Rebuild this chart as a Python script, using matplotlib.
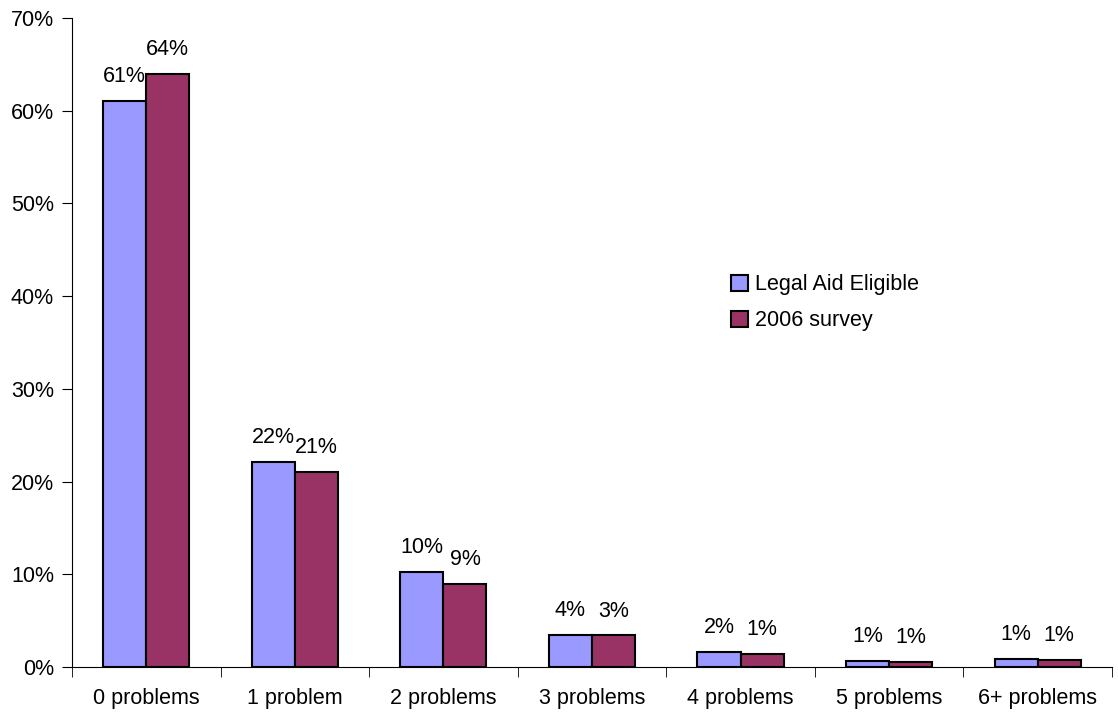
import numpy as np
import matplotlib
matplotlib.use("Agg")
import matplotlib.pyplot as plt
from matplotlib.ticker import FuncFormatter, FixedLocator

plt.rcParams['font.family'] = ['Liberation Sans', 'DejaVu Sans']

categories = ["0 problems", "1 problem", "2 problems", "3 problems",
              "4 problems", "5 problems", "6+ problems"]
legal_aid = [61.0, 22.1, 10.3, 3.5, 1.6, 0.65, 0.85]
survey_2006 = [64.0, 21.0, 9.0, 3.4, 1.4, 0.5, 0.75]
legal_labels = ["61%", "22%", "10%", "4%", "2%", "1%", "1%"]
survey_labels = ["64%", "21%", "9%", "3%", "1%", "1%", "1%"]

fig = plt.figure(figsize=(11.18, 7.17), dpi=100)
ax = fig.add_axes([0.0644, 0.0697, 0.9302, 0.9053])

x = np.arange(len(categories))
w = 0.29
b1 = ax.bar(x - w / 2, legal_aid, w, color="#9999FF", edgecolor="black",
            linewidth=1.5, label="Legal Aid Eligible")
b2 = ax.bar(x + w / 2, survey_2006, w, color="#993366", edgecolor="black",
            linewidth=1.5, label="2006 survey")

# value labels above bars
for bars, labels in [(b1, legal_labels), (b2, survey_labels)]:
    for rect, lab in zip(bars, labels):
        ax.annotate(lab, (rect.get_x() + rect.get_width() / 2, rect.get_height()),
                    xytext=(0, 10), textcoords="offset points",
                    ha="center", va="bottom", fontsize=15.5)

ax.set_xlim(-0.5, len(categories) - 0.5)
ax.set_ylim(0, 70)
ax.set_yticks(np.arange(0, 71, 10))
ax.yaxis.set_major_formatter(FuncFormatter(lambda v, p: f"{v:.0f}%"))

ax.set_xticks(x)
ax.set_xticklabels(categories)
ax.xaxis.set_minor_locator(FixedLocator(np.arange(-0.5, len(categories), 1)))
ax.tick_params(axis="x", which="major", length=0, pad=15, labelsize=15.5)
ax.tick_params(axis="x", which="minor", length=7, direction="out")
ax.tick_params(axis="y", length=7, direction="out", labelsize=15.5, pad=6)

ax.spines["top"].set_visible(False)
ax.spines["right"].set_visible(False)

ax.legend(loc="upper left", bbox_to_anchor=(0.615, 0.635), frameon=False,
          fontsize=15.5, handlelength=0.8, handleheight=0.8, handletextpad=0.3,
          labelspacing=0.7)

plt.savefig("out.png", dpi=100)
